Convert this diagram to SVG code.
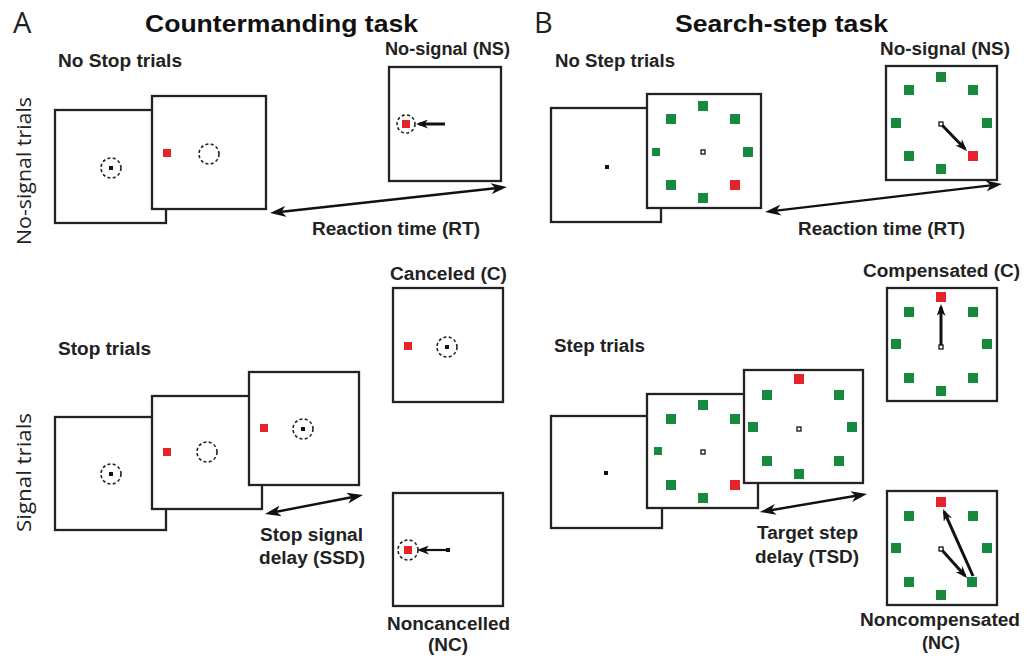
<svg xmlns="http://www.w3.org/2000/svg" width="1027" height="658" viewBox="0 0 1027 658">
<style>
.bg{fill:#ffffff}
.scr{fill:#ffffff;stroke:#222;stroke-width:2.3}
.ring{fill:none;stroke:#222;stroke-width:1.6;stroke-dasharray:3 2.4}
.dot{fill:#111}
.fix{fill:#fff;stroke:#111;stroke-width:1.3}
.red{fill:#e6222a}
.grn{fill:#178a3e}
.lbl{font-family:"Liberation Sans",Arial,sans-serif;font-weight:bold;font-size:17.5px;fill:#222}
.ttl{font-family:"Liberation Sans",Arial,sans-serif;font-weight:bold;font-size:24.5px;fill:#111}
.pl{font-family:"Open Sans","Liberation Sans",sans-serif;font-size:29px;fill:#222}
.side{font-family:"Open Sans","Liberation Sans",sans-serif;font-size:20px;fill:#222}
.conn{stroke:#111;stroke-width:2.4;fill:none;marker-start:url(#bigHead);marker-end:url(#bigHead)}
.mv{stroke:#111;stroke-width:3;fill:none;marker-end:url(#smallHead)}
</style>
<defs>
<marker id="bigHead" markerUnits="userSpaceOnUse" viewBox="0 0 16 11" refX="11" refY="5.5" markerWidth="16" markerHeight="11" orient="auto-start-reverse">
<path d="M0,0 L16,5.5 L0,11 L4.5,5.5 Z" fill="#111"/>
</marker>
<marker id="smallHead" markerUnits="userSpaceOnUse" viewBox="0 0 12 9" refX="9" refY="4.5" markerWidth="12" markerHeight="9" orient="auto">
<path d="M0,0 L12,4.5 L0,9 L3.5,4.5 Z" fill="#111"/>
</marker>
</defs>
<rect class="bg" x="0" y="0" width="1027" height="658"/>

<!-- Panel labels and titles -->
<g id="titles">
<text class="pl" x="13" y="33">A</text>
<text class="ttl" x="145" y="32" textLength="273" lengthAdjust="spacingAndGlyphs">Countermanding task</text>
<text class="pl" x="534" y="33">B</text>
<text class="ttl" x="675" y="32" textLength="213" lengthAdjust="spacingAndGlyphs">Search-step task</text>
<text class="side" transform="translate(31,245) rotate(-90)" textLength="148" lengthAdjust="spacingAndGlyphs">No-signal trials</text>
<text class="side" transform="translate(31,532) rotate(-90)" textLength="119" lengthAdjust="spacingAndGlyphs">Signal trials</text>
</g>

<g id="labels">
<text class="lbl" x="58" y="67" textLength="124" lengthAdjust="spacingAndGlyphs">No Stop trials</text>
<text class="lbl" x="385" y="55" textLength="125" lengthAdjust="spacingAndGlyphs">No-signal (NS)</text>
<text class="lbl" x="312" y="235" textLength="168" lengthAdjust="spacingAndGlyphs">Reaction time (RT)</text>
<text class="lbl" x="390" y="280" textLength="117" lengthAdjust="spacingAndGlyphs">Canceled (C)</text>
<text class="lbl" x="58" y="355" textLength="93" lengthAdjust="spacingAndGlyphs">Stop trials</text>
<text class="lbl" x="260" y="541" textLength="103" lengthAdjust="spacingAndGlyphs">Stop signal</text>
<text class="lbl" x="259" y="564" textLength="106" lengthAdjust="spacingAndGlyphs">delay (SSD)</text>
<text class="lbl" x="387" y="630" textLength="123" lengthAdjust="spacingAndGlyphs">Noncancelled</text>
<text class="lbl" x="428" y="651" textLength="40" lengthAdjust="spacingAndGlyphs">(NC)</text>
<text class="lbl" x="555" y="67" textLength="120" lengthAdjust="spacingAndGlyphs">No Step trials</text>
<text class="lbl" x="880" y="55" textLength="130" lengthAdjust="spacingAndGlyphs">No-signal (NS)</text>
<text class="lbl" x="798" y="235" textLength="167" lengthAdjust="spacingAndGlyphs">Reaction time (RT)</text>
<text class="lbl" x="863" y="277" textLength="157" lengthAdjust="spacingAndGlyphs">Compensated (C)</text>
<text class="lbl" x="554" y="352" textLength="91" lengthAdjust="spacingAndGlyphs">Step trials</text>
<text class="lbl" x="757" y="539" textLength="101" lengthAdjust="spacingAndGlyphs">Target step</text>
<text class="lbl" x="755" y="563" textLength="104" lengthAdjust="spacingAndGlyphs">delay (TSD)</text>
<text class="lbl" x="860" y="626" textLength="160" lengthAdjust="spacingAndGlyphs">Noncompensated</text>
<text class="lbl" x="922" y="649" textLength="38" lengthAdjust="spacingAndGlyphs">(NC)</text>
</g>

<!-- Panel A, no-signal -->
<g id="a-ns-fix">
<rect class="scr" x="55" y="110" width="111" height="113"/>
<circle class="ring" cx="111" cy="168" r="10"/>
<rect class="dot" x="109" y="166" width="4" height="4"/>
</g>
<g id="a-ns-target">
<rect class="scr" x="152" y="96" width="114" height="113"/>
<rect class="red" x="163" y="149" width="8" height="8"/>
<circle class="ring" cx="209" cy="154" r="10"/>
</g>
<g id="a-ns-result">
<rect class="scr" x="389" y="67" width="112" height="114"/>
<circle class="ring" cx="406" cy="124" r="9"/>
<rect class="red" x="402" y="120" width="8" height="8"/>
<line class="mv" x1="445" y1="124" x2="419" y2="124"/>
</g>

<!-- Panel A, signal -->
<g id="a-s-fix">
<rect class="scr" x="55" y="417" width="111" height="113"/>
<circle class="ring" cx="111" cy="474" r="10"/>
<rect class="dot" x="109" y="472" width="4" height="4"/>
</g>
<g id="a-s-target">
<rect class="scr" x="152" y="396" width="110" height="113"/>
<rect class="red" x="163" y="448" width="8" height="8"/>
<circle class="ring" cx="207" cy="452" r="10"/>
</g>
<g id="a-s-stop">
<rect class="scr" x="249" y="372" width="110" height="113"/>
<rect class="red" x="260" y="424" width="8" height="8"/>
<circle class="ring" cx="303" cy="429" r="10"/>
<rect class="dot" x="301" y="427" width="4" height="4"/>
</g>
<g id="a-canceled">
<rect class="scr" x="393" y="288" width="110" height="114"/>
<rect class="red" x="404" y="342" width="8" height="8"/>
<circle class="ring" cx="447" cy="347" r="10"/>
<rect class="dot" x="445" y="345" width="4" height="4"/>
</g>
<g id="a-noncancelled">
<rect class="scr" x="393" y="493" width="110" height="113"/>
<circle class="ring" cx="408" cy="550" r="10"/>
<rect class="red" x="404" y="546" width="8" height="8"/>
<line class="mv" x1="448" y1="550" x2="420" y2="550" style="stroke-width:2.2"/>
<rect class="dot" x="446" y="548" width="4" height="4"/>
</g>

<!-- Panel B, no-step -->
<g id="b-ns-fix">
<rect class="scr" x="551" y="108" width="110" height="114"/>
<rect class="dot" x="605" y="165" width="4" height="4"/>
</g>
<g id="b-ns-array">
<rect class="scr" x="647" y="94" width="114" height="114"/>
<rect class="grn" x="698" y="101" width="10" height="10"/>
<rect class="grn" x="666" y="114" width="10" height="10"/>
<rect class="grn" x="730" y="114" width="10" height="10"/>
<rect class="grn" x="652" y="148" width="8" height="8"/>
<rect class="grn" x="743" y="147" width="10" height="10"/>
<rect class="fix" x="701" y="150" width="4" height="4"/>
<rect class="grn" x="666" y="180" width="10" height="10"/>
<rect class="red" x="730" y="180" width="10" height="10"/>
<rect class="grn" x="698" y="193" width="10" height="10"/>
</g>
<g id="b-ns-result">
<rect class="scr" x="886" y="66" width="111" height="114"/>
<rect class="grn" x="936" y="72" width="10" height="10"/>
<rect class="grn" x="904" y="85" width="10" height="10"/>
<rect class="grn" x="968" y="85" width="10" height="10"/>
<rect class="grn" x="891" y="118" width="10" height="10"/>
<rect class="grn" x="982" y="118" width="10" height="10"/>
<rect class="grn" x="904" y="151" width="10" height="10"/>
<rect class="red" x="968" y="151" width="10" height="10"/>
<rect class="grn" x="936" y="164" width="10" height="10"/>
<line class="mv" x1="941" y1="124" x2="964.9" y2="148.8"/>
<rect class="fix" x="939" y="122" width="4" height="4"/>
</g>

<!-- Panel B, step -->
<g id="b-s-fix">
<rect class="scr" x="551" y="416" width="111" height="112"/>
<rect class="dot" x="604" y="471" width="4" height="4"/>
</g>
<g id="b-s-array">
<rect class="scr" x="647" y="394" width="111" height="114"/>
<rect class="grn" x="698" y="400" width="10" height="10"/>
<rect class="grn" x="666" y="414" width="10" height="10"/>
<rect class="grn" x="730" y="414" width="10" height="10"/>
<rect class="grn" x="654" y="447" width="8" height="8"/>
<rect class="fix" x="701" y="450" width="4" height="4"/>
<rect class="grn" x="666" y="480" width="10" height="10"/>
<rect class="red" x="730" y="480" width="10" height="10"/>
<rect class="grn" x="698" y="493" width="10" height="10"/>
</g>
<g id="b-s-step">
<rect class="scr" x="744" y="370" width="119" height="113"/>
<rect class="red" x="794" y="374" width="10" height="10"/>
<rect class="grn" x="762" y="390" width="10" height="10"/>
<rect class="grn" x="834" y="390" width="10" height="10"/>
<rect class="grn" x="748" y="422" width="10" height="10"/>
<rect class="grn" x="847" y="422" width="10" height="10"/>
<rect class="fix" x="797" y="427" width="4" height="4"/>
<rect class="grn" x="762" y="456" width="10" height="10"/>
<rect class="grn" x="834" y="456" width="10" height="10"/>
<rect class="grn" x="794" y="469" width="10" height="10"/>
</g>
<g id="b-compensated">
<rect class="scr" x="887" y="288" width="110" height="113"/>
<rect class="red" x="936" y="292" width="10" height="10"/>
<rect class="grn" x="904" y="307" width="10" height="10"/>
<rect class="grn" x="968" y="307" width="10" height="10"/>
<rect class="grn" x="891" y="339" width="10" height="10"/>
<rect class="grn" x="982" y="339" width="10" height="10"/>
<rect class="grn" x="904" y="373" width="10" height="10"/>
<rect class="grn" x="968" y="373" width="10" height="10"/>
<rect class="grn" x="936" y="386" width="10" height="10"/>
<line class="mv" x1="941" y1="347" x2="941" y2="307"/>
<rect class="fix" x="939" y="345" width="4" height="4"/>
</g>
<g id="b-noncompensated">
<rect class="scr" x="887" y="491" width="110" height="114"/>
<rect class="red" x="936" y="497" width="10" height="10"/>
<rect class="grn" x="904" y="511" width="10" height="10"/>
<rect class="grn" x="968" y="511" width="10" height="10"/>
<rect class="grn" x="891" y="543" width="10" height="10"/>
<rect class="grn" x="982" y="543" width="10" height="10"/>
<rect class="grn" x="904" y="577" width="10" height="10"/>
<rect class="grn" x="967" y="577" width="10" height="10"/>
<rect class="grn" x="936" y="590" width="10" height="10"/>
<line class="mv" x1="941" y1="549" x2="965" y2="575.8"/>
<line class="mv" x1="973" y1="576" x2="944.2" y2="511.7"/>
<rect class="fix" x="939" y="547" width="4" height="4"/>
</g>

<!-- Connectors -->
<g id="connectors">
<line class="conn" x1="275" y1="212.5" x2="502" y2="187.5"/>
<line class="conn" x1="269.9" y1="513" x2="358.1" y2="496"/>
<line class="conn" x1="770" y1="211.4" x2="997" y2="184.6"/>
<line class="conn" x1="764.9" y1="511.2" x2="862.1" y2="494.8"/>
</g>
</svg>
